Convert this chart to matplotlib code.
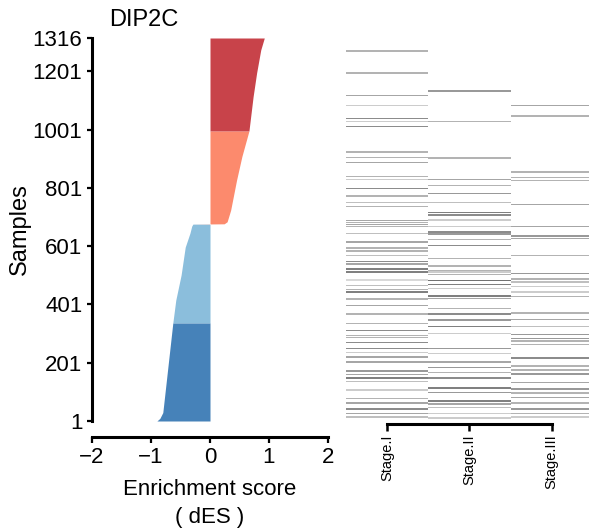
import matplotlib
matplotlib.use("Agg")
import matplotlib.pyplot as plt
import numpy as np

plt.rcParams['font.family'] = ['Liberation Sans', 'DejaVu Sans']

gene = "DIP2C"
n_samples = 1316

# enrichment score outline (sample index, dES), sorted samples
neg_samples = [1, 10, 30, 338, 416, 502, 598, 646, 670, 677]
neg_scores = [-0.90, -0.85, -0.80, -0.63, -0.58, -0.49, -0.42, -0.34, -0.31, -0.29]
pos_samples = [678, 685, 725, 828, 909, 997, 1114, 1196, 1275, 1316]
pos_scores = [0.24, 0.29, 0.35, 0.45, 0.54, 0.66, 0.73, 0.79, 0.86, 0.92]

# group boundaries (last sample of each group) and colours
group_ends = [338, 677, 997, 1316]
group_colors = ["#4682b9", "#8bbedc", "#fc8a6d", "#c8434a"]

yticks = [1, 201, 401, 601, 801, 1001, 1201, 1316]
xticks = [-2, -1, 0, 1, 2]

# stage annotation tracks: sample rows and grey level
stages = ["Stage.I", "Stage.II", "Stage.III"]
stage1_rows = [1272, 1197, 1118, 1084, 1039, 1029, 1012, 925, 906, 889, 840, 831, 799,
               774, 751, 737, 689, 682, 675, 668, 645, 616, 595, 584, 570, 549, 540,
               522, 513, 485, 467, 453, 444, 419, 398, 368, 336, 311, 295, 288, 270,
               249, 236, 220, 204, 172, 160, 149, 137, 107, 78, 62, 41, 27, 14]
stage1_vals = [0.30, 0.30, 0.35, 0.20, 0.45, 0.20, 0.45, 0.30, 0.30, 0.35, 0.30, 0.20, 0.45,
               0.30, 0.25, 0.30, 0.35, 0.30, 0.35, 0.30, 0.25, 0.35, 0.30, 0.30, 0.25, 0.45, 0.35,
               0.50, 0.50, 0.15, 0.25, 0.30, 0.50, 0.30, 0.35, 0.30, 0.30, 0.45, 0.30, 0.30, 0.45,
               0.45, 0.20, 0.35, 0.35, 0.40, 0.35, 0.50, 0.25, 0.20, 0.30, 0.35, 0.45, 0.35, 0.25]
stage2_rows = [1134, 1030, 904, 830, 810, 783, 751, 716, 709, 691, 668, 650, 643, 625,
               604, 558, 533, 517, 513, 503, 483, 469, 455, 430, 421, 387, 368, 348, 325,
               302, 249, 233, 204, 185, 167, 149, 114, 98, 69, 59, 46, 27, 11]
stage2_vals = [0.40, 0.30, 0.30, 0.35, 0.30, 0.40, 0.25, 0.50, 0.45, 0.20, 0.20, 0.45, 0.40, 0.30,
               0.45, 0.30, 0.30, 0.30, 0.20, 0.30, 0.55, 0.50, 0.20, 0.50, 0.35, 0.30, 0.45, 0.40, 0.50,
               0.20, 0.40, 0.20, 0.35, 0.40, 0.30, 0.45, 0.50, 0.40, 0.50, 0.35, 0.25, 0.20, 0.20]
stage3_rows = [1084, 1049, 856, 838, 826, 744, 668, 636, 627, 570, 508, 488, 478, 462,
               444, 428, 371, 350, 325, 297, 284, 275, 263, 217, 190, 176, 162, 133, 110,
               96, 82, 62, 41, 27, 14]
stage3_vals = [0.35, 0.30, 0.30, 0.30, 0.30, 0.35, 0.35, 0.40, 0.35, 0.30, 0.40, 0.30, 0.25, 0.20,
               0.20, 0.30, 0.30, 0.35, 0.25, 0.40, 0.40, 0.30, 0.30, 0.45, 0.30, 0.30, 0.40, 0.35, 0.40,
               0.30, 0.35, 0.30, 0.40, 0.30, 0.20]

fig = plt.figure(figsize=(5.89, 5.31), dpi=100)

# --- waterfall of enrichment scores ---
ax = fig.add_axes([92 / 589, 1 - 421 / 531, 236 / 589, 383 / 531])
samples = neg_samples + pos_samples
scores = neg_scores + pos_scores
start = 0.5
for end, color in zip(group_ends, group_colors):
    idx = [i for i, s in enumerate(samples) if start - 1 <= s <= end]
    ys = [samples[i] for i in idx]
    xs = [scores[i] for i in idx]
    ax.fill_betweenx(ys, 0, xs, color=color, lw=0, antialiased=True)
    start = end + 1

ax.set_xlim(-2, 2)
ax.set_ylim(1, n_samples)
ax.set_xticks(xticks)
ax.set_yticks(yticks)
ax.set_yticklabels([str(t) for t in yticks])
for side in ["top", "right"]:
    ax.spines[side].set_visible(False)
ax.spines["left"].set_bounds(1, n_samples)
ax.spines["left"].set_linewidth(2.2)
ax.spines["bottom"].set_bounds(-2, 2)
ax.spines["bottom"].set_linewidth(2.2)
ax.spines["bottom"].set_position(("outward", 11.5))
ax.tick_params(axis="y", length=3.5, width=1.6, pad=3.5, labelsize=16)
ax.tick_params(axis="x", length=4.5, width=1.6, pad=2.5, labelsize=16)
ax.set_xlabel("Enrichment score\n( dES )", fontsize=16, linespacing=1.45, labelpad=8)
ax.set_ylabel("Samples", fontsize=17, labelpad=1)
fig.text(109 / 589, 1 - 20 / 531, gene, fontsize=17, ha="left", va="center")

# --- stage tracks: one grey stripe per flagged sample ---
hx = fig.add_axes([345.7 / 589, 1 - 421 / 531, 247.3 / 589, 383 / 531])
tracks = [(stage1_rows, stage1_vals), (stage2_rows, stage2_vals), (stage3_rows, stage3_vals)]
for j, (rows, vals) in enumerate(tracks):
    shades = [str(round(1 - v, 3)) for v in vals]
    hx.barh(rows, 1, left=j, height=5, color=shades, linewidth=0)
hx.set_xlim(0, 3)
hx.set_ylim(0.5, n_samples + 0.5)
for side in ["top", "right", "left"]:
    hx.spines[side].set_visible(False)
hx.spines["bottom"].set_bounds(0.5, 2.5)
hx.spines["bottom"].set_linewidth(2.2)
hx.spines["bottom"].set_position(("outward", 2))
hx.set_yticks([])
hx.set_xticks([0.5, 1.5, 2.5])
hx.set_xticklabels(stages, rotation=90, fontsize=10.5)
hx.tick_params(axis="x", length=5, width=1.8, pad=2.5)

fig.savefig("out.png", dpi=100)
